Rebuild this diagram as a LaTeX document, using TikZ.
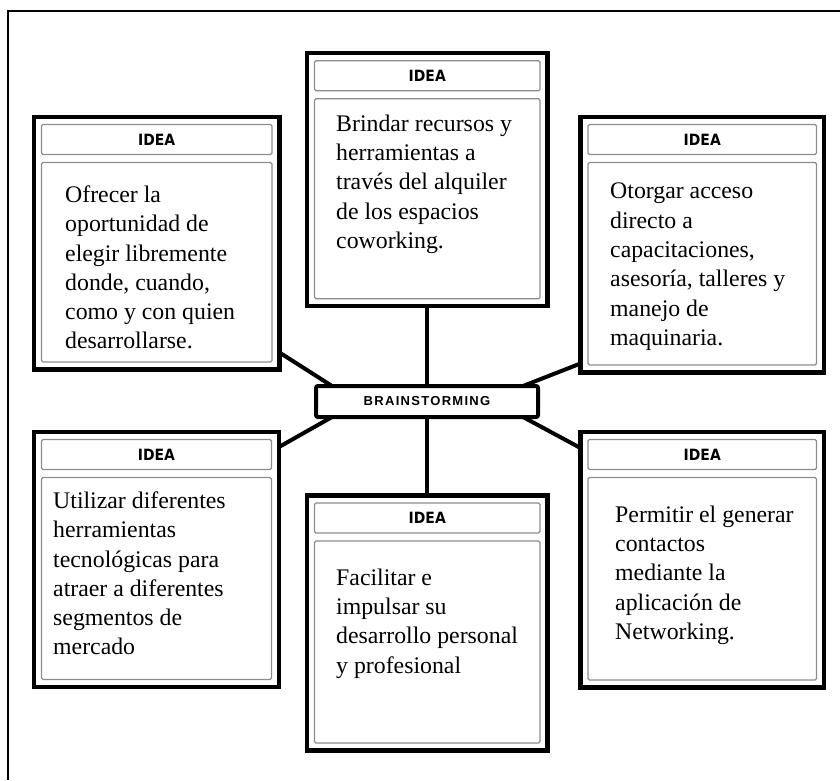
\documentclass[tikz,border=0pt]{standalone}
\usepackage{fontspec}
\setmainfont{Liberation Serif}
\newfontfamily\ideafont{DejaVu Sans Condensed}
\newfontfamily\hubfont[LetterSpace=10]{Liberation Sans}
\definecolor{panelgray}{HTML}{8C8C8C}

\tikzset{
  ideaframe/.style={draw=black, line width=4.3pt, anchor=north west,
    inner sep=0pt, outer sep=0pt},
  ideahead/.style={draw=panelgray, line width=1.3pt, rounded corners=1.5pt,
    anchor=north west, inner sep=0pt, outer sep=0pt, minimum height=30pt,
    font=\ideafont\bfseries\fontsize{15.5}{17}\selectfont},
  ideabody/.style={draw=panelgray, line width=1.3pt, rounded corners=1.5pt,
    anchor=north west, inner sep=0pt, outer sep=0pt},
  ideatext/.style={anchor=north west, align=left, inner sep=0pt,
    font=\fontsize{23.8}{29.3}\selectfont},
  hub/.style={draw=black, fill=white, line width=4pt, rounded corners=2pt,
    anchor=north west, inner sep=0pt, outer sep=0pt,
    font=\hubfont\bfseries\fontsize{13}{15}\selectfont},
  link/.style={draw=black, line width=4pt},
  sheetedge/.style={draw=black, line width=2.3pt},
}

% #1 name, #2 x, #3 y, #4 width, #5 height, #6 text x, #7 text top, #8 text
\newcommand\ideabox[8]{%
  \node[ideaframe, minimum width=#4pt, minimum height=#5pt] (#1) at (#2,#3) {};
  \node[ideahead, minimum width=#4pt-15pt] (#1-head)
    at ([shift={(7.5pt,-7.5pt)}]#1.north west) {IDEA};
  \node[ideabody, minimum width=#4pt-15pt, minimum height=#5pt-53pt] (#1-body)
    at ([shift={(7.5pt,-45.5pt)}]#1.north west) {};
  \node[ideatext] (#1-text) at (#6,#7) {#8};
}

\begin{document}
\begin{tikzpicture}[x=1pt, y=-1pt]
  \useasboundingbox (0,0) rectangle (840,780);

  % sheet edge
  \coordinate (edgebottom) at (7.8,780);
  \coordinate (edgecorner) at (7.8,11);
  \coordinate (edgeright) at (840,11);
  \draw[sheetedge] (edgebottom) -- (edgecorner) -- (edgeright);

  % idea panels
  \ideabox{tl}{34}{117}{245.5}{252.5}{65}{185.5}
    {Ofrecer la\\oportunidad de\\elegir libremente\\donde, cuando,\\como y con quien\\desarrollarse.}
  \ideabox{t}{307}{53.3}{240.5}{253}{336}{114.5}
    {Brindar recursos y\\herramientas a\\través del alquiler\\de los espacios\\coworking.}
  \ideabox{tr}{580.5}{117}{243.5}{255.5}{610}{183}
    {Otorgar acceso\\directo a\\capacitaciones,\\asesoría, talleres y\\manejo de\\maquinaria.}
  \ideabox{bl}{34}{432}{245}{255}{53}{491.5}
    {Utilizar diferentes\\herramientas\\tecnológicas para\\atraer a diferentes\\segmentos de\\mercado}
  \ideabox{b}{307}{495.5}{240.5}{255}{336}{568.5}
    {Facilitar e\\impulsar su\\desarrollo personal\\y profesional}
  \ideabox{br}{580.5}{432}{243.5}{255.5}{615}{505.5}
    {Permitir el generar\\contactos\\mediante la\\aplicación de\\Networking.}

  % central hub
  \node[hub, minimum width=222pt, minimum height=31pt] (bs) at (316,386)
    {BRAINSTORMING};

  % links from the hub to each panel
  \draw[link] (t.south) -- (t.south |- bs.north);
  \draw[link] (b.north) -- (b.north |- bs.south);
  \draw[link] ([yshift=17pt]tl.south east) -- ([xshift=16pt]bs.north west);
  \draw[link] ([yshift=9pt]tr.south west) -- ([xshift=-15pt]bs.north east);
  \draw[link] ([yshift=-15pt]bl.north east) -- ([xshift=16pt]bs.south west);
  \draw[link] ([yshift=-16pt]br.north west) -- ([xshift=-15pt]bs.south east);
\end{tikzpicture}
\end{document}
